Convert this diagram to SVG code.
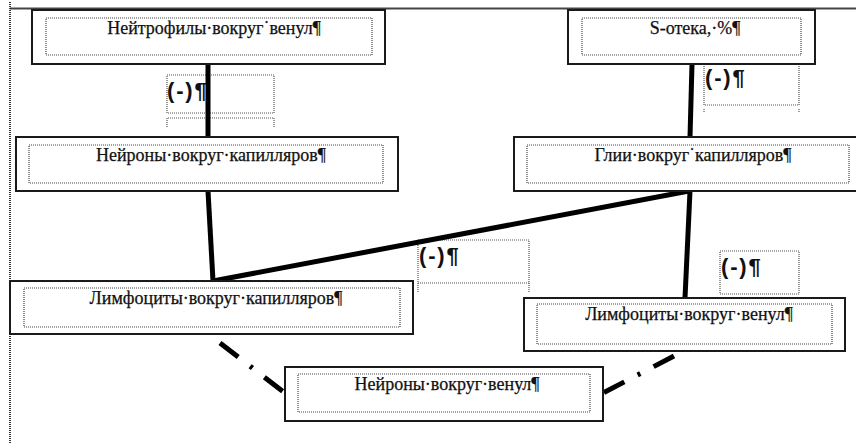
<svg xmlns="http://www.w3.org/2000/svg" width="856" height="443" viewBox="0 0 856 443">
<defs>
<style>
.outer{fill:#fff;stroke:#1a1a1a;stroke-width:2}
.inner{fill:none;stroke:#444;stroke-width:1.2;stroke-dasharray:1 1}
.dot{fill:none;stroke:#555;stroke-width:1.2;stroke-dasharray:1 1}
.t{font-family:'Liberation Serif',serif;font-size:18px;fill:#111;stroke:#111;stroke-width:0.25;text-anchor:middle}
.lbl{font-family:'Liberation Sans',sans-serif;font-size:22px;font-weight:bold;fill:#111;letter-spacing:1.8px}
.c{stroke:#000;fill:none;stroke-width:5}
.dd{stroke:#000;fill:none;stroke-width:5;stroke-dasharray:23 15 3 15}
</style>
</defs>
<rect width="856" height="443" fill="#fff"/>
<g id="page">
<line x1="10" y1="8.5" x2="856" y2="8.5" stroke="#444" stroke-width="2"/>
<line x1="10" y1="2" x2="10" y2="443" stroke="#333" stroke-width="2" stroke-dasharray="1 1"/>
</g>
<g id="labels">
<g id="label1">
<rect class="dot" x="167" y="75" width="107" height="38"/>
<path class="dot" d="M167,127 V118 H274 V127"/>
<text class="lbl" x="167" y="98">(-)¶</text>
</g>
<g id="label2">
<path class="dot" d="M704,64 V105 H799 V64"/>
<path class="dot" d="M704,112 V108 M799,112 V108"/>
<text class="lbl" x="705" y="85">(-)¶</text>
</g>
<g id="label3">
<rect class="dot" x="418" y="240" width="111" height="43"/>
<path class="dot" d="M418,292 V283 M529,292 V283"/>
<text class="lbl" x="419" y="263">(-)¶</text>
</g>
<g id="label4">
<rect class="dot" x="720" y="251" width="79" height="43"/>
<text class="lbl" x="721" y="274">(-)¶</text>
</g>
</g>
<g id="connectors">
<line class="c" x1="208" y1="64" x2="208" y2="137"/>
<line class="c" x1="692" y1="64" x2="690" y2="137"/>
<line class="c" x1="208" y1="191" x2="213" y2="281"/>
<line class="c" x1="213" y1="281" x2="689" y2="191" stroke-width="3"/>
<line class="c" x1="690" y1="191" x2="685" y2="298"/>
<line class="dd" x1="220" y1="343" x2="285" y2="393"/>
<line class="dd" x1="674" y1="356" x2="603" y2="393"/>
</g>
<g id="n1">
<rect class="outer" x="32" y="10" width="353" height="54"/>
<rect class="inner" x="46" y="18" width="326" height="37"/>
<text class="t" x="214" y="34">Нейтрофилы·вокруг˙венул¶</text>
</g>
<g id="n2">
<rect class="outer" x="16" y="137" width="382" height="54"/>
<rect class="inner" x="29" y="145" width="354" height="38"/>
<text class="t" x="211" y="161">Нейроны·вокруг·капилляров¶</text>
</g>
<g id="n3">
<rect class="outer" x="568" y="10" width="247" height="54"/>
<rect class="inner" x="582" y="18" width="219" height="37"/>
<text class="t" x="695" y="34">S-отека,·%¶</text>
</g>
<g id="n4">
<rect class="outer" x="514" y="137" width="346" height="54"/>
<rect class="inner" x="527" y="145" width="322" height="38"/>
<text class="t" x="693" y="161">Глии·вокруг˙капилляров¶</text>
</g>
<g id="n5">
<rect class="outer" x="10" y="281" width="403" height="53"/>
<rect class="inner" x="24" y="288" width="376" height="39"/>
<text class="t" x="216" y="304">Лимфоциты·вокруг·капилляров¶</text>
</g>
<g id="n6">
<rect class="outer" x="524" y="298" width="321" height="53"/>
<rect class="inner" x="537" y="304" width="295" height="40"/>
<text class="t" x="689" y="320">Лимфоциты·вокруг·венул¶</text>
</g>
<g id="n7">
<rect class="outer" x="285" y="367" width="318" height="54"/>
<rect class="inner" x="298" y="374" width="292" height="38"/>
<text class="t" x="447" y="390">Нейроны·вокруг·венул¶</text>
</g>
</svg>
